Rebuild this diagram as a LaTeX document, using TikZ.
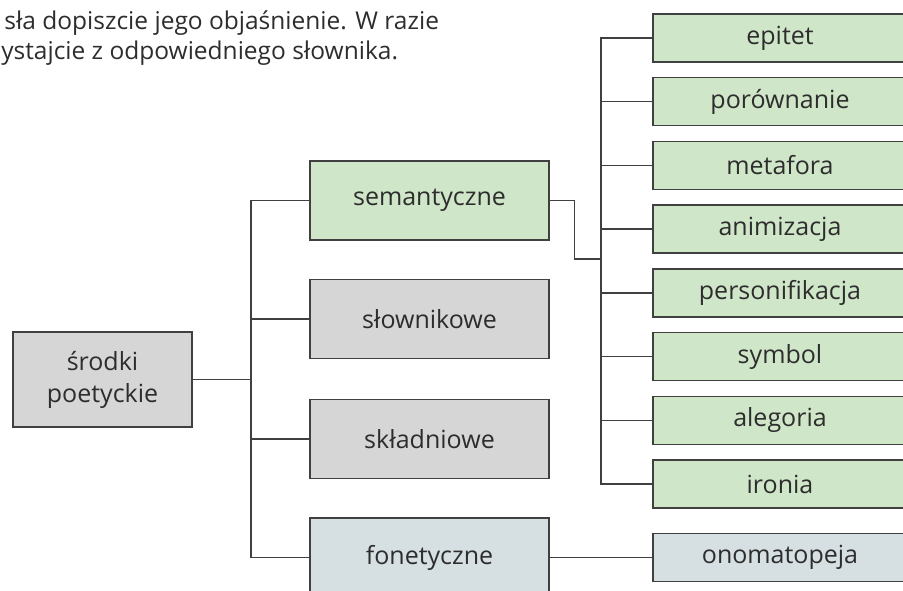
\documentclass[tikz,border=0pt]{standalone}
\usepackage{fontspec}
\setmainfont{Open Sans}
\definecolor{semgreen}{RGB}{208,230,201}
\definecolor{plaingray}{RGB}{214,214,214}
\definecolor{fongray}{RGB}{214,224,227}
\definecolor{framegray}{RGB}{64,64,64}
\definecolor{inkgray}{RGB}{45,45,45}
\begin{document}
\begin{tikzpicture}[x=1pt,y=-1pt,line width=1.4pt,draw=framegray,
	box/.style={rectangle, draw=framegray, text=inkgray, font=\fontsize{25}{30}\selectfont, align=center, inner sep=0pt},
	midbox/.style={box, minimum width=239pt, minimum height=79pt},
	leafbox/.style={box, minimum width=254pt, minimum height=48pt},
	introline/.style={anchor=base east, text=inkgray, font=\fontsize{24.5}{29}\selectfont}]
	\path[use as bounding box, clip] (0,0) rectangle (903,590);

	\node (intro1) at (443, 29)	[introline]	{sła dopiszcie jego objaśnienie. W razie};
	\node (intro2) at (402, 59)	[introline]	{ystajcie z odpowiedniego słownika.};

	\node (root) at (102.5, 379.5)	[box, minimum width=179pt, minimum height=95pt, fill=plaingray]	{środki\\[2pt]poetyckie};

	\node (sem)  at (429.5, 200.5)	[midbox, fill=semgreen]		{semantyczne};
	\node (slow) at (429.5, 319)	[midbox, fill=plaingray]	{słownikowe};
	\node (skl)  at (429.5, 439)	[midbox, fill=plaingray]	{składniowe};
	\node (fon)  at (429.5, 557.5)	[midbox, fill=fongray]		{fonetyczne};

	\node (epitet) at (780,  38)	[leafbox, fill=semgreen]	{epitet};
	\node (porown) at (780, 101.7)	[leafbox, fill=semgreen]	{porównanie};
	\node (metaf)  at (780, 165.4)	[leafbox, fill=semgreen]	{metafora};
	\node (anim)   at (780, 229)	[leafbox, fill=semgreen]	{animizacja};
	\node (perso)  at (780, 292.8)	[leafbox, fill=semgreen]	{personifikacja};
	\node (symb)   at (780, 356.5)	[leafbox, fill=semgreen]	{symbol};
	\node (aleg)   at (780, 420.2)	[leafbox, fill=semgreen]	{alegoria};
	\node (iron)   at (780, 484)	[leafbox, fill=semgreen]	{ironia};
	\node (onom)   at (780, 557.5)	[leafbox, fill=fongray]		{onomatopeja};

	% left tree
	\coordinate (lsplit) at (251, 379.5);
	\draw (root.east) -- (lsplit);
	\foreach \n in {sem,slow,skl,fon}
		\draw (\n.west) -| (lsplit);

	% right tree
	\coordinate (rsplit) at (601, 259);
	\draw (sem.east) -- ++(25,0) |- (rsplit);
	\foreach \n in {epitet,porown,metaf,anim,perso,symb,aleg,iron}
		\draw (\n.west) -| (rsplit);

	\draw (fon.east) -- (onom.west);
\end{tikzpicture}
\end{document}
